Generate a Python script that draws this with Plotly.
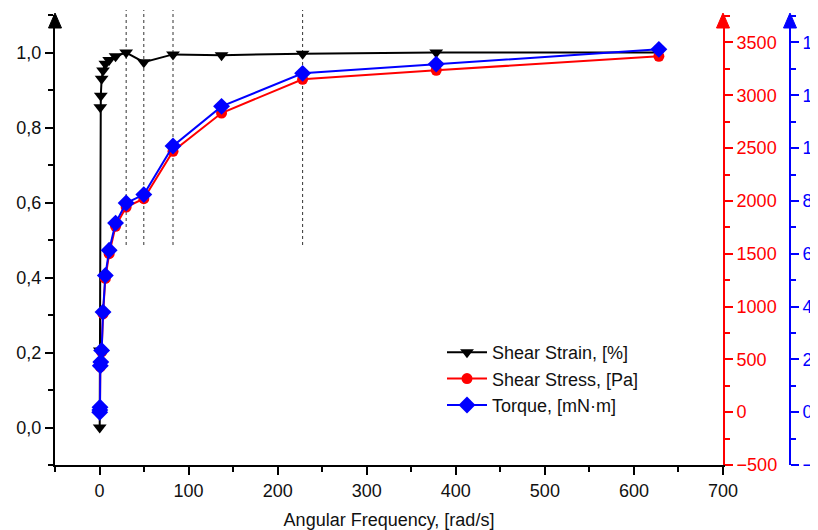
import plotly.graph_objects as go

# ---------------- data ----------------
freq = [0.19, 0.31, 0.52, 0.86, 1.42, 2.36, 3.93, 6.52, 10.8, 18.0, 29.9,
        49.7, 82.5, 137, 228, 378, 628]
strain_freq = [0.19, 0.31, 0.86, 1.42, 2.36, 3.93, 6.52, 10.8, 18.0, 29.9,
               49.7, 82.5, 137, 228, 378, 628]
shear_strain = [0.0, 0.205, 0.854, 0.885, 0.93, 0.952, 0.97, 0.98, 0.99, 1.0,
                0.974, 0.995, 0.993, 0.997, 1.0, 1.0]
shear_stress = [0, 15, 40, 430, 465, 570, 930, 1266, 1500, 1759, 1942, 2021,
                2470, 2832, 3151, 3237, 3369]
torque = [0.0, 0.08, 0.19, 1.76, 1.9, 2.34, 3.79, 5.18, 6.13, 7.16, 7.92,
          8.24, 10.08, 11.58, 12.83, 13.18, 13.74]
marker_freqs = [29.9, 49.7, 82.5, 228]

x_ticks = [0, 100, 200, 300, 400, 500, 600, 700]
left_ticks = [0.0, 0.2, 0.4, 0.6, 0.8, 1.0]
red_ticks = [-500, 0, 500, 1000, 1500, 2000, 2500, 3000, 3500]
blue_ticks = [-2, 0, 2, 4, 6, 8, 10, 12, 14]

# ---------------- layout constants ----------------
# the page body has an 8px default margin, so the figure is drawn 8px in
OFF = 8
W, H = 818 - OFF, 530 - OFF
ML, MR, MT = 55 - OFF, 20, 15 - OFF
MB = H - (465 - OFF)
PW = W - ML - MR
PH = H - MT - MB
x_right_px = 723 - OFF
blue_px = 790 - OFF
dom_right = (x_right_px - ML) / PW
blue_pos = (blue_px - ML) / PW


def py(screen_y):
    """screen y pixel -> paper y fraction"""
    return (MT + PH - (screen_y - OFF)) / PH


def px(screen_x):
    return (screen_x - OFF - ML) / PW


FONT = "Liberation Sans, Arial, sans-serif"
RED = "#FF0000"
BLUE = "#0000FF"
TXT = "#111111"
FS = 18

fig = go.Figure()
fig.add_trace(go.Scatter(
    x=strain_freq, y=shear_strain, name="Shear Strain, [%]", mode="lines+markers",
    line=dict(color="black", width=2),
    marker=dict(symbol="triangle-down", size=12, color="black"),
    yaxis="y"))
fig.add_trace(go.Scatter(
    x=freq, y=shear_stress, name="Shear Stress, [Pa]", mode="lines+markers",
    line=dict(color=RED, width=2),
    marker=dict(symbol="circle", size=11, color=RED),
    yaxis="y2"))
fig.add_trace(go.Scatter(
    x=freq, y=torque, name="Torque, [mN·m]", mode="lines+markers",
    line=dict(color=BLUE, width=2),
    marker=dict(symbol="diamond", size=13, color=BLUE),
    yaxis="y3"))

shapes = []
for f in marker_freqs:
    shapes.append(dict(type="line", xref="x", yref="paper", x0=f, x1=f,
                       y0=py(245), y1=py(10),
                       line=dict(color="#333333", width=1, dash="3px,3px"),
                       layer="below"))


def arrow(sx, color):
    tip_y = py(13)
    base_y = py(28)
    xc = px(sx)
    dx = 6.5 / PW
    return dict(type="path", xref="paper", yref="paper",
                path=f"M {xc - dx},{base_y} L {xc},{tip_y} L {xc + dx},{base_y} Z",
                fillcolor=color, line=dict(color=color, width=1))


shapes += [arrow(55, "black"), arrow(723, RED), arrow(790, BLUE)]

tickfont = dict(family=FONT, size=FS, color=TXT)

fig.update_layout(
    width=W, height=H,
    margin=dict(l=ML, r=MR, t=MT, b=MB, pad=0, autoexpand=False),
    paper_bgcolor="white", plot_bgcolor="white",
    separators=",.",
    font=dict(family=FONT, size=FS, color=TXT),
    showlegend=True,
    legend=dict(x=px(442), y=py(334), xanchor="left", yanchor="top",
                bgcolor="rgba(0,0,0,0)", borderwidth=0,
                font=dict(family=FONT, size=FS, color=TXT),
                tracegroupgap=0, itemwidth=40),
    xaxis=dict(domain=[0, dom_right], range=[-50, 700], tickvals=x_ticks,
               automargin=False,
               showgrid=False, zeroline=False, showline=True, linecolor="black",
               linewidth=2, ticks="outside", ticklen=8, tickwidth=2, tickcolor="black",
               minor=dict(dtick=50, tick0=0, ticks="outside", ticklen=5, tickwidth=2, tickcolor="black"),
               tickfont=tickfont,
               title=dict(text="Angular Frequency, [rad/s]", font=dict(family=FONT, size=FS, color=TXT), standoff=15)),
    yaxis=dict(range=[-0.1, 1.1], tickvals=left_ticks, tickformat=".1f",
               automargin=False,
               showgrid=False, zeroline=False, showline=True, linecolor="black",
               linewidth=2, ticks="outside", ticklen=8, tickwidth=2, tickcolor="black",
               minor=dict(dtick=0.1, tick0=0, ticks="outside", ticklen=5, tickwidth=2, tickcolor="black"),
               tickfont=tickfont),
    yaxis2=dict(range=[-500, 3760], tickvals=red_ticks, overlaying="y", side="right",
                anchor="x", automargin=False, showgrid=False, zeroline=False, showline=True,
                linecolor=RED, linewidth=2, ticks="outside", ticklen=8, tickwidth=2,
                tickcolor=RED,
                minor=dict(dtick=250, tick0=0, ticks="outside", ticklen=5, tickwidth=2, tickcolor=RED),
                tickfont=dict(family=FONT, size=FS, color=RED)),
    yaxis3=dict(range=[-2, 15.04], tickvals=blue_ticks, overlaying="y", side="right",
                anchor="free", position=blue_pos, automargin=False, showgrid=False, zeroline=False,
                showline=True, linecolor=BLUE, linewidth=2, ticks="outside", ticklen=8,
                tickwidth=2, tickcolor=BLUE,
                minor=dict(dtick=1, tick0=0, ticks="outside", ticklen=5, tickwidth=2, tickcolor=BLUE),
                tickfont=dict(family=FONT, size=FS, color=BLUE)),
    shapes=shapes,
)

fig.write_html("out.html")
